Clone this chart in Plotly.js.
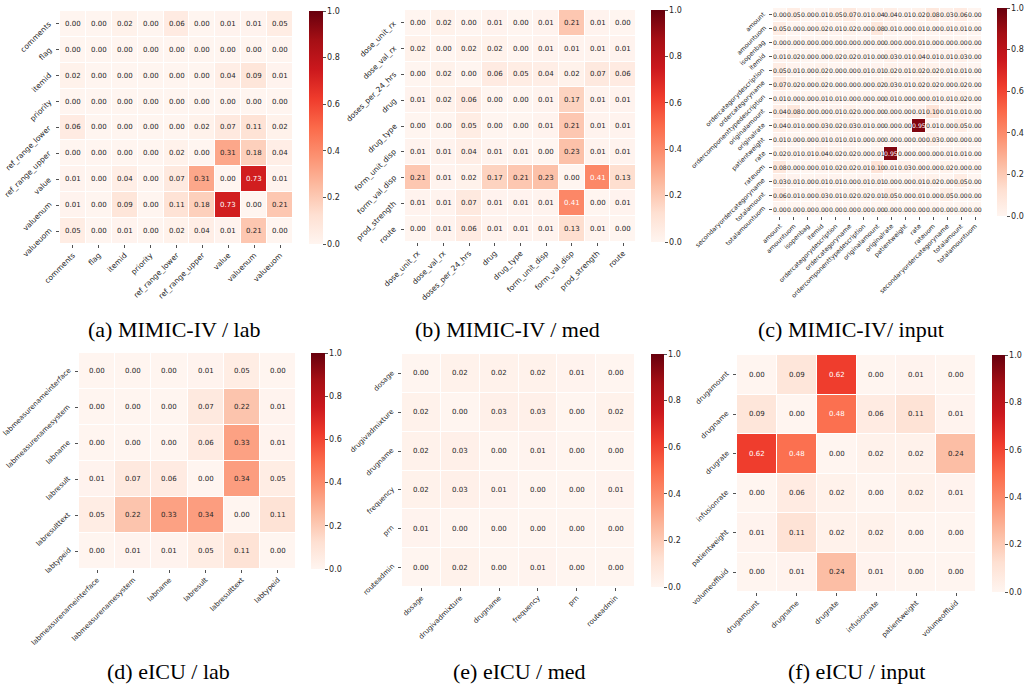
<!DOCTYPE html>
<html><head><meta charset="utf-8">
<script src="https://cdn.plot.ly/plotly-3.0.1.min.js"></script>
<style>html,body{margin:0;padding:0;background:#fff}#chart{width:1024px;height:689px}</style>
</head><body><div id="chart"></div>
<script>
// ---------- data ----------
const labelsA = ["comments","flag","itemid","priority","ref_range_lower","ref_range_upper","value","valuenum","valueuom"];
const valuesA = [
 [0.00,0.00,0.02,0.00,0.06,0.00,0.01,0.01,0.05],
 [0.00,0.00,0.00,0.00,0.00,0.00,0.00,0.00,0.00],
 [0.02,0.00,0.00,0.00,0.00,0.00,0.04,0.09,0.01],
 [0.00,0.00,0.00,0.00,0.00,0.00,0.00,0.00,0.00],
 [0.06,0.00,0.00,0.00,0.00,0.02,0.07,0.11,0.02],
 [0.00,0.00,0.00,0.00,0.02,0.00,0.31,0.18,0.04],
 [0.01,0.00,0.04,0.00,0.07,0.31,0.00,0.73,0.01],
 [0.01,0.00,0.09,0.00,0.11,0.18,0.73,0.00,0.21],
 [0.05,0.00,0.01,0.00,0.02,0.04,0.01,0.21,0.00]
];
const labelsB = ["dose_unit_rx","dose_val_rx","doses_per_24_hrs","drug","drug_type","form_unit_disp","form_val_disp","prod_strength","route"];
const valuesB = [
 [0.00,0.02,0.00,0.01,0.00,0.01,0.21,0.01,0.00],
 [0.02,0.00,0.02,0.02,0.00,0.01,0.01,0.01,0.01],
 [0.00,0.02,0.00,0.06,0.05,0.04,0.02,0.07,0.06],
 [0.01,0.02,0.06,0.00,0.00,0.01,0.17,0.01,0.01],
 [0.00,0.00,0.05,0.00,0.00,0.01,0.21,0.01,0.01],
 [0.01,0.01,0.04,0.01,0.01,0.00,0.23,0.01,0.01],
 [0.21,0.01,0.02,0.17,0.21,0.23,0.00,0.41,0.13],
 [0.01,0.01,0.07,0.01,0.01,0.01,0.41,0.00,0.01],
 [0.00,0.01,0.06,0.01,0.01,0.01,0.13,0.01,0.00]
];
const labelsC = ["amount","amountuom","isopenbag","itemid","ordercategorydescription","ordercategoryname","ordercomponenttypedescription","originalamount","originalrate","patientweight","rate","rateuom","secondaryordercategoryname","totalamount","totalamountuom"];
const valuesC = [
 [0.00,0.05,0.00,0.01,0.05,0.07,0.01,0.04,0.04,0.01,0.02,0.08,0.03,0.06,0.00],
 [0.05,0.00,0.00,0.02,0.01,0.02,0.00,0.08,0.01,0.00,0.01,0.00,0.01,0.01,0.00],
 [0.00,0.00,0.00,0.00,0.00,0.00,0.00,0.00,0.00,0.00,0.01,0.00,0.00,0.00,0.00],
 [0.01,0.02,0.00,0.00,0.02,0.02,0.01,0.00,0.03,0.01,0.04,0.01,0.01,0.03,0.00],
 [0.05,0.01,0.00,0.02,0.00,0.00,0.01,0.01,0.02,0.01,0.02,0.02,0.01,0.01,0.00],
 [0.07,0.02,0.00,0.02,0.00,0.00,0.00,0.02,0.03,0.01,0.02,0.02,0.00,0.02,0.00],
 [0.01,0.00,0.00,0.01,0.01,0.00,0.00,0.00,0.01,0.00,0.00,0.01,0.01,0.02,0.00],
 [0.04,0.08,0.00,0.00,0.01,0.02,0.00,0.00,0.00,0.00,0.01,0.10,0.01,0.01,0.00],
 [0.04,0.01,0.00,0.03,0.02,0.03,0.01,0.00,0.00,0.00,0.95,0.01,0.00,0.05,0.00],
 [0.01,0.00,0.00,0.01,0.01,0.01,0.00,0.00,0.00,0.00,0.00,0.03,0.00,0.00,0.00],
 [0.02,0.01,0.01,0.04,0.02,0.02,0.00,0.01,0.95,0.00,0.00,0.00,0.01,0.01,0.00],
 [0.08,0.00,0.00,0.01,0.02,0.02,0.01,0.10,0.01,0.03,0.00,0.00,0.02,0.00,0.00],
 [0.03,0.01,0.00,0.01,0.01,0.00,0.01,0.01,0.00,0.00,0.01,0.02,0.00,0.05,0.00],
 [0.06,0.01,0.00,0.03,0.01,0.02,0.02,0.01,0.05,0.00,0.01,0.00,0.05,0.00,0.00],
 [0.00,0.00,0.00,0.00,0.00,0.00,0.00,0.00,0.00,0.00,0.00,0.00,0.00,0.00,0.00]
];
const labelsD = ["labmeasurenameinterface","labmeasurenamesystem","labname","labresult","labresulttext","labtypeid"];
const valuesD = [
 [0.00,0.00,0.00,0.01,0.05,0.00],
 [0.00,0.00,0.00,0.07,0.22,0.01],
 [0.00,0.00,0.00,0.06,0.33,0.01],
 [0.01,0.07,0.06,0.00,0.34,0.05],
 [0.05,0.22,0.33,0.34,0.00,0.11],
 [0.00,0.01,0.01,0.05,0.11,0.00]
];
const labelsE = ["dosage","drugivadmixture","drugname","frequency","prn","routeadmin"];
const valuesE = [
 [0.00,0.02,0.02,0.02,0.01,0.00],
 [0.02,0.00,0.03,0.03,0.00,0.02],
 [0.02,0.03,0.00,0.01,0.00,0.00],
 [0.02,0.03,0.01,0.00,0.00,0.01],
 [0.01,0.00,0.00,0.00,0.00,0.00],
 [0.00,0.02,0.00,0.01,0.00,0.00]
];
const labelsF = ["drugamount","drugname","drugrate","infusionrate","patientweight","volumeoffluid"];
const valuesF = [
 [0.00,0.09,0.62,0.00,0.01,0.00],
 [0.09,0.00,0.48,0.06,0.11,0.01],
 [0.62,0.48,0.00,0.02,0.02,0.24],
 [0.00,0.06,0.02,0.00,0.02,0.01],
 [0.01,0.11,0.02,0.02,0.00,0.00],
 [0.00,0.01,0.24,0.01,0.00,0.00]
];
const captions = ["(a) MIMIC-IV / lab","(b) MIMIC-IV / med","(c) MIMIC-IV/ input","(d) eICU / lab","(e) eICU / med","(f) eICU / input"];

// ---------- layout (pixels) ----------
const W = 1024, H = 689;
const panels = [
 {labels: labelsA, z: valuesA, box:[60,293,11,244],  cb:[309,323],  tick:7.5, cell:7,   capX:174, capY:329},
 {labels: labelsB, z: valuesB, box:[405,636,10,242], cb:[651,665],  tick:7.5, cell:7,   capX:507, capY:329},
 {labels: labelsC, z: valuesC, box:[773,982,8,216],  cb:[997,1007], tick:6.3, cell:6.2, capX:851, capY:329},
 {labels: labelsD, z: valuesD, box:[79,296,353,569], cb:[311,325],  tick:7,   cell:7,   capX:168, capY:671},
 {labels: labelsE, z: valuesE, box:[402,635,354,587],cb:[651,664],  tick:7,   cell:7,   capX:519, capY:671},
 {labels: labelsF, z: valuesF, box:[737,976,355,592],cb:[992,1005], tick:7,   cell:7,   capX:856, capY:671}
];
const reds = [[0,'#fff5f0'],[0.125,'#fee0d2'],[0.25,'#fcbba1'],[0.375,'#fc9272'],[0.5,'#fb6a4a'],[0.625,'#ef3b2c'],[0.75,'#cb181d'],[0.875,'#a50f15'],[1,'#67000d']];
const txtCol = '#262626';

const data = [];
const layout = {
 width: W, height: H, margin:{l:0,r:0,t:0,b:0},
 paper_bgcolor:'#fff', plot_bgcolor:'#fff', showlegend:false,
 font:{family:'DejaVu Sans', color: txtCol},
 annotations: []
};

panels.forEach((p, i) => {
 const k = i + 1, sfx = k === 1 ? '' : String(k);
 const [l, r, t, b] = p.box;
 const n = p.labels.length;
 data.push({
  type:'heatmap', x: p.labels, y: p.labels, z: p.z,
  zmin:0, zmax:1, colorscale: reds, xgap:1, ygap:1, hoverinfo:'skip',
  xaxis:'x'+sfx, yaxis:'y'+sfx,
  colorbar:{
   x: p.cb[0]/W, xanchor:'left', xpad:0, xref:'paper',
   y: 1 - t/H, yanchor:'top', ypad:0, yref:'paper',
   len:(b-t)/H, lenmode:'fraction',
   thickness: p.cb[1]-p.cb[0], thicknessmode:'pixels',
   outlinewidth:0, tickmode:'linear', tick0:0, dtick:0.2, tickformat:'.1f',
   ticks:'outside', ticklen:3, tickwidth:0.8, tickcolor:txtCol,
   tickfont:{size:8, color:txtCol, family:'DejaVu Sans'}
  }
 });
 const ax = {
  type:'category', showgrid:false, zeroline:false, showline:false,
  ticks:'outside', ticklen:3, tickwidth:0.8, tickcolor:txtCol,
  tickangle:-45, tickmode:'array', tickvals:p.labels, ticktext:p.labels,
  tickfont:{size:p.tick, color:txtCol, family:'DejaVu Sans'}, fixedrange:true, automargin:false
 };
 layout['xaxis'+sfx] = Object.assign({}, ax, {domain:[l/W, r/W], anchor:'y'+sfx, autorange:false, range:[-0.5, n-0.5]});
 layout['yaxis'+sfx] = Object.assign({}, ax, {domain:[1-b/H, 1-t/H], anchor:'x'+sfx, autorange:false, range:[n-0.5, -0.5], showticklabels:false});
 // y tick labels, rotated 45° with their end at the tick
 p.labels.forEach(lab => {
  layout.annotations.push({
   xref:'paper', yref:'y'+sfx, x:(l-5)/W, y:lab, xanchor:'right', yanchor:'top',
   text:lab, textangle:-45, showarrow:false, borderpad:0, yshift:6,
   font:{size:p.tick, family:'DejaVu Sans', color:txtCol}
  });
 });
 p.z.forEach((row, ri) => row.forEach((v, ci) => {
  layout.annotations.push({
   xref:'x'+sfx, yref:'y'+sfx, x:p.labels[ci], y:p.labels[ri],
   text:v.toFixed(2), showarrow:false, borderpad:0,
   font:{size:p.cell, family:'DejaVu Sans', color: v >= 0.4 ? '#ffffff' : txtCol}
  });
 }));
 layout.annotations.push({
  xref:'paper', yref:'paper', x:p.capX/W, y:1-p.capY/H, xanchor:'center', yanchor:'middle',
  text:captions[i], showarrow:false,
  font:{family:'Liberation Serif', size:22, color:'#000'}
 });
});

Plotly.newPlot('chart', data, layout, {staticPlot:true, displayModeBar:false});
</script>
</body></html>
